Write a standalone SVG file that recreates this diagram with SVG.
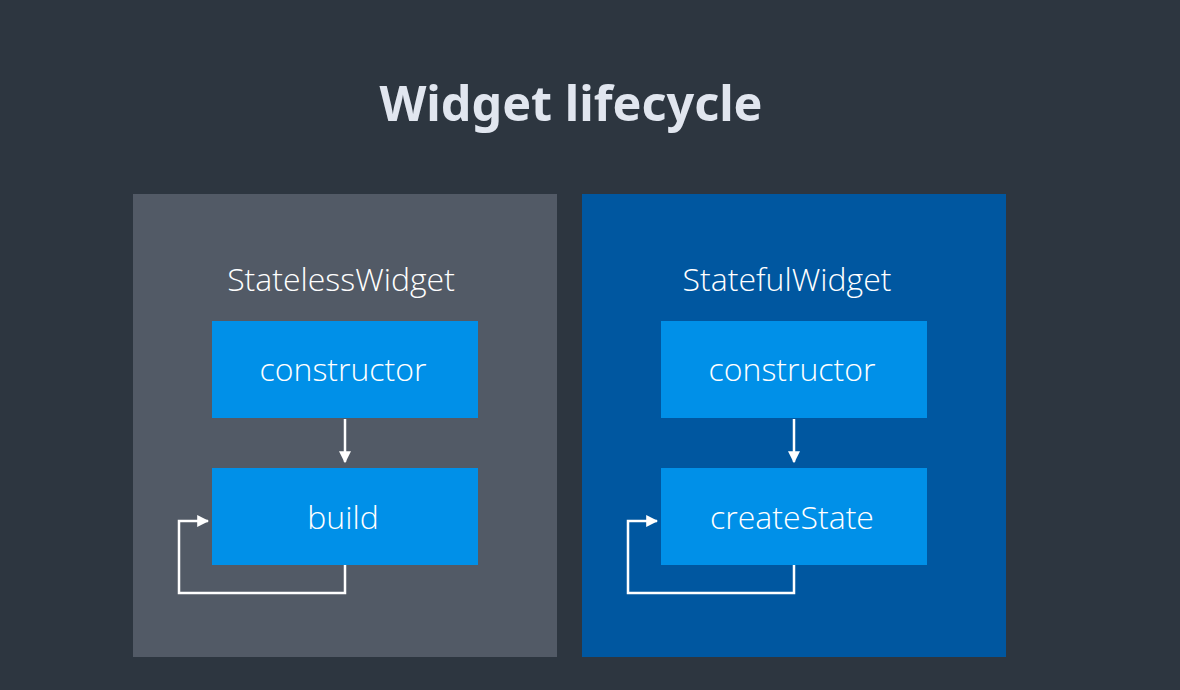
<svg xmlns="http://www.w3.org/2000/svg" width="1180" height="690" viewBox="0 0 1180 690">
<style>
.title{font-family:"Noto Sans","Open Sans",sans-serif;font-weight:700;font-size:48.5px;fill:#e1e6ef;text-anchor:middle}
.lbl{font-family:"Open Sans","Noto Sans",sans-serif;font-weight:300;font-size:32px;fill:#ffffff;text-anchor:middle}
.box{fill:#0090e8}
.conn{fill:none;stroke:#ffffff;stroke-width:2.5}
</style>
<defs>
<marker id="ah" viewBox="0 0 10 10" refX="9" refY="5" markerWidth="12" markerHeight="12" markerUnits="userSpaceOnUse" orient="auto">
<path d="M0,0 L10,5 L0,10 z" fill="#ffffff"/>
</marker>
</defs>
<rect width="1180" height="690" fill="#2d3640"/>
<text class="title" x="571" y="121">Widget lifecycle</text>
<g id="stateless">
<rect x="133" y="194" width="424" height="463" fill="#525a66"/>
<text class="lbl" x="341" y="291">StatelessWidget</text>
</g>
<g id="stateful">
<rect x="582" y="194" width="424" height="463" fill="#0057a0"/>
<text class="lbl" x="787" y="291">StatefulWidget</text>
</g>
<g id="constructor1">
<rect class="box" x="212" y="321" width="266" height="97"/>
<text class="lbl" x="343" y="381">constructor</text>
</g>
<g id="build">
<rect class="box" x="212" y="468" width="266" height="97"/>
<text class="lbl" x="343" y="529">build</text>
</g>
<g id="constructor2">
<rect class="box" x="661" y="321" width="266" height="97"/>
<text class="lbl" x="792" y="381">constructor</text>
</g>
<g id="createState">
<rect class="box" x="661" y="468" width="266" height="97"/>
<text class="lbl" x="792" y="529">createState</text>
</g>
<g id="connectors">
<path class="conn" d="M345,419 V462" marker-end="url(#ah)"/>
<path class="conn" d="M345,565 V593 H179 V521 H208" marker-end="url(#ah)"/>
<path class="conn" d="M794,419 V462" marker-end="url(#ah)"/>
<path class="conn" d="M794,565 V593 H628 V521 H657" marker-end="url(#ah)"/>
</g>
</svg>
